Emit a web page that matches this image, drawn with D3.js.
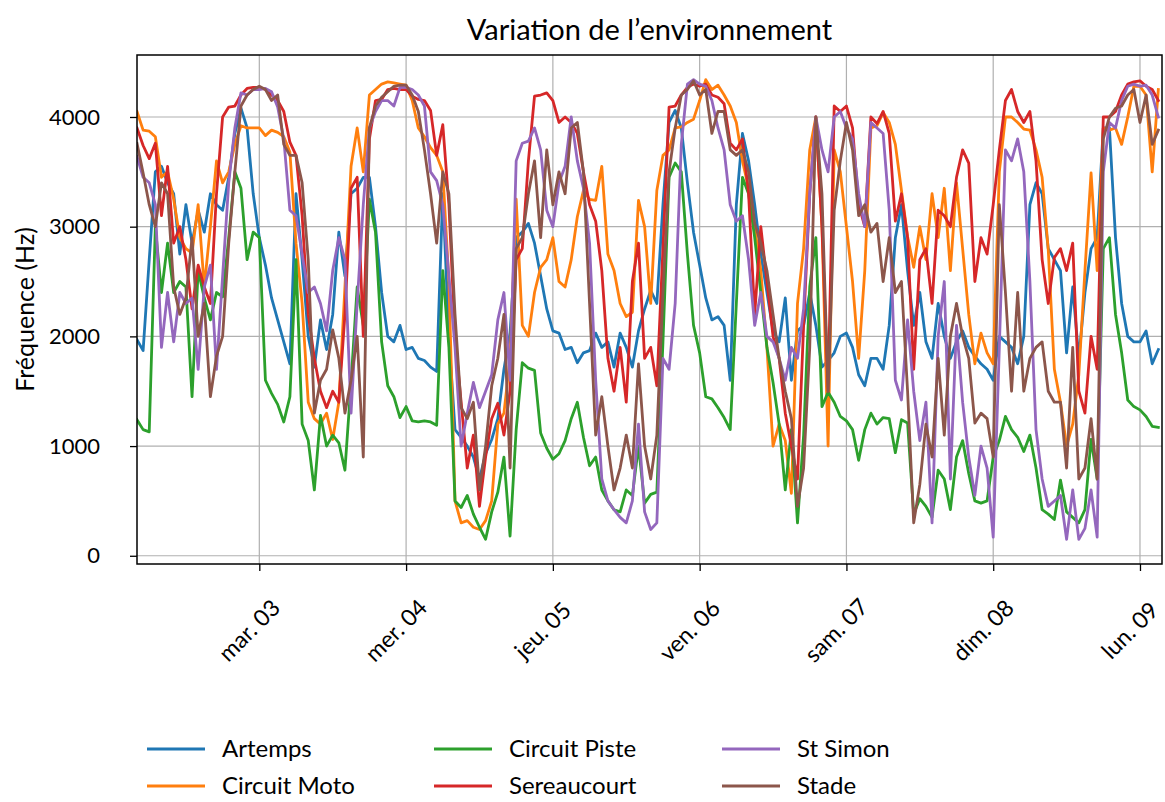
<!DOCTYPE html>
<html><head><meta charset="utf-8">
<script src="https://cdn.jsdelivr.net/npm/d3@7"></script>
<style>
html,body{margin:0;padding:0;background:#fff;}
svg{display:block;font-family:Lato,"Open Sans",sans-serif;}
</style></head>
<body>
<div id="chart"></div>
<script>
// ---- data (hourly samples starting 2020-03-02 04:00) ----
const seriesNames = ["Artemps","Circuit Moto","Circuit Piste","Sereaucourt","St Simon","Stade"];
const seriesColors = ["#1f77b4","#ff7f0e","#2ca02c","#d62728","#9467bd","#8c564b"];
const startTime = Date.UTC(2020,2,2,4,0);
const xLimitHours = 167.6;
const yTicks = [0,1000,2000,3000,4000];
const xTickDates = [Date.UTC(2020,2,3),Date.UTC(2020,2,4),Date.UTC(2020,2,5),Date.UTC(2020,2,6),Date.UTC(2020,2,7),Date.UTC(2020,2,8),Date.UTC(2020,2,9)];
const xTickLabels = ["mar. 03","mer. 04","jeu. 05","ven. 06","sam. 07","dim. 08","lun. 09"];
const yDomain = [-75,4565];

const artemps = [1970,1870,2700,3500,3550,3400,3300,2750,3200,2850,3150,2950,3300,3200,3150,3450,3850,4080,3900,3300,
2900,2650,2350,2150,1950,1750,3300,2700,2000,1720,2150,1880,2200,2950,2550,3300,3350,3450,3450,3000,
2400,2000,1950,2100,1880,1900,1800,1780,1720,1680,3300,2000,1150,1080,1000,900,700,930,1060,1250,
1700,2030,2900,2950,3030,2850,2550,2250,2050,2030,1880,1900,1760,1850,1870,2030,1900,1950,1720,2030,
1900,1720,2050,2250,2420,2300,3200,3950,4060,3900,3400,2950,2650,2350,2150,2180,2100,1600,3200,3850,
3600,3200,2750,2400,2050,1950,2350,1600,2050,2100,2400,2100,1720,1780,1850,2000,2030,1900,1650,1550,
1800,1800,1700,2100,2900,3200,2600,2100,2400,1950,1800,2300,2000,1800,1950,2050,1900,1820,1750,1700,
1600,2000,1950,1900,1750,2000,3200,3400,3300,2800,2700,2600,1850,2450,1800,2400,2800,2900,3900,3900,
2900,2300,2000,1950,1950,2050,1750,1880];
const circuitMoto = [4050,3880,3870,3820,3450,3500,3250,2900,2800,2760,3200,2450,3000,3600,3400,3500,3750,3920,3900,3900,
3900,3830,3880,3860,3820,3680,2850,2300,1400,1250,1200,1300,1060,1400,2450,3550,3900,3500,4200,4250,
4300,4320,4310,4300,4290,4150,3900,3820,3720,3650,3500,2500,500,300,320,260,240,320,500,1200,
1300,1800,3250,2100,2000,2400,2630,2700,2900,2500,2450,2700,3090,3330,3250,3240,3550,2750,2600,2300,
2180,2220,3240,3000,2300,3330,3650,3700,3900,3910,3950,3980,4150,4340,4250,4290,4200,4100,3950,3600,
3350,3000,2600,1900,1000,1200,1050,570,2300,2800,3700,4000,3000,1000,3700,3500,3000,2500,1800,2600,
3900,3920,4040,3950,3750,3330,2910,2630,3000,2700,3300,2900,3350,2600,3400,2800,2200,1750,2030,1850,
1750,3500,4000,4000,3950,3890,3880,3700,3450,2790,1700,1400,1000,1200,1650,2600,3490,2600,3900,3880,
3900,3750,4000,4280,4280,4200,3500,4250];
const circuitPiste = [1240,1150,1130,3000,2400,2850,2400,2500,2450,1450,2600,2350,2150,2400,2360,2900,3500,3350,2700,2950,
2900,1600,1480,1380,1220,1450,2700,1200,1050,600,1280,1000,1100,1030,780,1580,2450,2100,3250,2950,
1950,1550,1450,1260,1360,1230,1220,1230,1220,1190,2600,1900,500,440,550,380,260,150,400,580,
900,180,1150,1760,1710,1690,1120,980,880,930,1050,1250,1400,1080,820,900,600,500,420,400,
600,550,1000,480,560,580,1950,3450,3580,3500,2750,2100,1850,1450,1430,1350,1260,1150,2300,3450,
3300,2900,2400,1900,1580,1200,600,1150,300,1100,2450,2900,1360,1490,1400,1270,1230,1150,870,1150,
1300,1200,1260,1250,940,1240,1210,380,520,450,350,780,700,420,900,1050,750,500,480,500,
900,1050,1270,1150,1080,950,1100,800,420,380,330,690,400,350,300,420,1060,700,2800,2900,
2200,1850,1420,1360,1330,1270,1180,1170];
const sereaucourt = [3900,3740,3620,3760,3100,3550,2850,3000,2700,2250,2650,2450,2300,3300,4000,4090,4100,4200,4260,4270,
4270,4250,4200,4150,4050,3770,3650,3100,2200,1800,1500,1350,1500,1400,2200,3350,3450,2000,3800,4150,
4160,4250,4260,4250,4250,4190,4160,4150,4060,3650,3930,3200,2000,1400,800,1100,450,900,1250,1390,
1100,1500,2700,2800,3600,4190,4200,4220,4150,3950,4000,3950,3850,3500,3200,3050,2600,1800,1500,1900,
1400,2500,2850,1800,1900,1550,2800,4090,4100,4200,4270,4300,4280,4300,4200,4180,4120,3760,3700,3800,
3300,2200,3000,2500,2000,1800,1300,1000,700,2100,3300,4000,3000,1500,4100,4050,4100,3900,3200,3000,
4000,3940,4050,3850,3050,3300,2900,1700,2700,2800,2300,3150,3100,3000,3450,3700,3580,2500,2900,2750,
3200,3700,4150,4250,4050,3950,4050,3600,2700,2300,2720,2800,2600,2850,1500,1300,2000,1700,4000,4000,
4050,4200,4300,4320,4330,4280,4250,4150];
const stSimon = [3640,3450,3400,3200,1900,2400,1950,2400,2300,2350,1700,2450,2650,1700,2550,3400,3900,4220,4200,4250,
4250,4260,4230,4090,3800,3150,3100,2750,2400,2450,2300,2050,2600,2900,2700,1300,2300,3200,3900,4050,
4150,4150,4100,4270,4270,4250,4200,4100,3500,3420,3200,2550,1900,1000,1300,1580,1350,1500,1650,2150,
2400,1600,3600,3760,3780,3900,3700,3150,3000,3400,3550,4000,3600,3350,2850,1600,700,500,420,350,
300,500,1200,400,240,300,1800,1700,2300,3750,4300,4340,4300,4280,4150,3900,3700,3200,3050,3100,
2700,2100,2400,2000,1950,1800,1600,1900,1800,2250,3300,4000,3700,3500,4000,4050,3900,3800,3300,3000,
3950,3900,3850,3150,1600,1420,2150,1500,1050,1400,300,2000,2500,700,2100,1400,900,550,1000,800,
170,1900,3700,3600,3800,3500,2500,1150,700,450,500,550,150,600,150,250,600,170,3500,3950,
3900,4150,4280,4300,4280,4290,4200,4000];
const stade = [3760,3490,3200,3000,3400,3300,2450,2200,2350,2900,2000,2300,1450,1820,2000,2850,3500,4100,4200,4250,
4280,4250,4150,4200,3750,3650,3650,3400,2700,1300,1600,1700,2060,1800,1300,1600,2000,900,3900,4100,
4180,4230,4280,4290,4290,4200,4050,3700,3300,2850,3500,3300,2200,1350,1250,1400,600,1000,1550,1800,
2200,800,2800,2900,3300,3600,2900,3700,3200,3500,3300,3900,3950,3500,2300,1100,1450,1000,600,800,
1100,800,1750,1000,700,1100,2400,3500,3900,4200,4250,4330,4200,4250,3850,4050,4050,3700,3650,3700,
3500,3030,2850,2600,2200,1800,1500,1250,450,800,1900,4000,3300,1500,3150,3600,3950,3700,3100,3200,
2950,3030,2500,2900,2400,2500,1500,300,650,1200,900,1800,1100,2000,2300,2000,1800,1210,1300,1250,
900,3200,2400,1500,2400,1500,1800,1900,1950,1500,1400,1400,800,1900,700,800,1250,700,3800,4000,
4080,4100,4200,4250,3950,4200,3750,3880];
const seriesValues = [artemps,circuitMoto,circuitPiste,sereaucourt,stSimon,stade];

// ---- layout ----
const W = 1165, H = 802;
const M = {left:137, top:55, right:1162, bottom:564};
const HOUR = 3600*1000;

const svg = d3.select("#chart").append("svg").attr("width",W).attr("height",H);

const x = d3.scaleUtc().domain([startTime, startTime + xLimitHours*HOUR]).range([M.left, M.right]);
const y = d3.scaleLinear().domain(yDomain).range([M.bottom, M.top]);

// grid
const grid = svg.append("g");
grid.selectAll("line.gx").data(xTickDates).enter().append("line")
  .attr("x1",d=>x(d)).attr("x2",d=>x(d)).attr("y1",M.top).attr("y2",M.bottom)
  .attr("stroke","#b0b0b0").attr("stroke-width",1.2);
grid.selectAll("line.gy").data(yTicks).enter().append("line")
  .attr("x1",M.left).attr("x2",M.right).attr("y1",d=>y(d)).attr("y2",d=>y(d))
  .attr("stroke","#b0b0b0").attr("stroke-width",1.2);

// lines
svg.append("defs").append("clipPath").attr("id","clip").append("rect")
  .attr("x",M.left).attr("y",M.top).attr("width",M.right-M.left).attr("height",M.bottom-M.top);
const line = d3.line().x((d,i)=>x(startTime + i*HOUR)).y(d=>y(d));
const lg = svg.append("g").attr("clip-path","url(#clip)");
seriesValues.forEach((vals,k)=>{
  lg.append("path").datum(vals).attr("d",line).attr("fill","none")
    .attr("stroke",seriesColors[k]).attr("stroke-width",2.8).attr("stroke-linejoin","round").attr("stroke-linecap","square");
});

// axes
const xAxis = d3.axisBottom(x).tickValues(xTickDates).tickSize(7).tickFormat((d,i)=>xTickLabels[i]);
const gx = svg.append("g").attr("transform",`translate(0,${M.bottom})`).call(xAxis);
gx.select(".domain").remove();
gx.selectAll(".tick line").attr("stroke","#000").attr("stroke-width",1.3);
gx.selectAll(".tick text").attr("font-size",23).attr("font-family","Lato")
  .attr("text-anchor","middle").attr("dy",null).attr("y",null)
  .attr("transform","translate(-9,68) rotate(-45)").attr("dominant-baseline","middle").attr("fill","#000");

const yAxis = d3.axisLeft(y).tickValues(yTicks).tickSize(7).tickPadding(30).tickFormat(d3.format("d"));
const gy = svg.append("g").attr("transform",`translate(${M.left},0)`).call(yAxis);
gy.select(".domain").remove();
gy.selectAll(".tick line").attr("stroke","#000").attr("stroke-width",1.3);
gy.selectAll(".tick text").attr("font-size",22).attr("font-family","Lato").attr("fill","#000");

// frame
svg.append("rect").attr("x",M.left).attr("y",M.top).attr("width",M.right-M.left).attr("height",M.bottom-M.top)
  .attr("fill","none").attr("stroke","#000").attr("stroke-width",1.5);

// title & labels
svg.append("text").attr("x",(M.left+M.right)/2).attr("y",40).attr("text-anchor","middle")
  .attr("font-size",29).text("Variation de l\u2019environnement");
svg.append("text").attr("transform",`translate(34,${(M.top+M.bottom)/2}) rotate(-90)`).attr("text-anchor","middle")
  .attr("font-size",25).text("Fréquence (Hz)");

// legend
const legCols = [147, 434, 722];
const legRows = [749, 786];
seriesNames.forEach((n,k)=>{
  const cx = legCols[Math.floor(k/2)], cy = legRows[k%2];
  svg.append("line").attr("x1",cx).attr("x2",cx+58).attr("y1",cy).attr("y2",cy)
    .attr("stroke",seriesColors[k]).attr("stroke-width",3);
  svg.append("text").attr("x",cx+75).attr("y",cy).attr("dy","0.35em").attr("font-size",24).text(n);
});
</script>
</body></html>
